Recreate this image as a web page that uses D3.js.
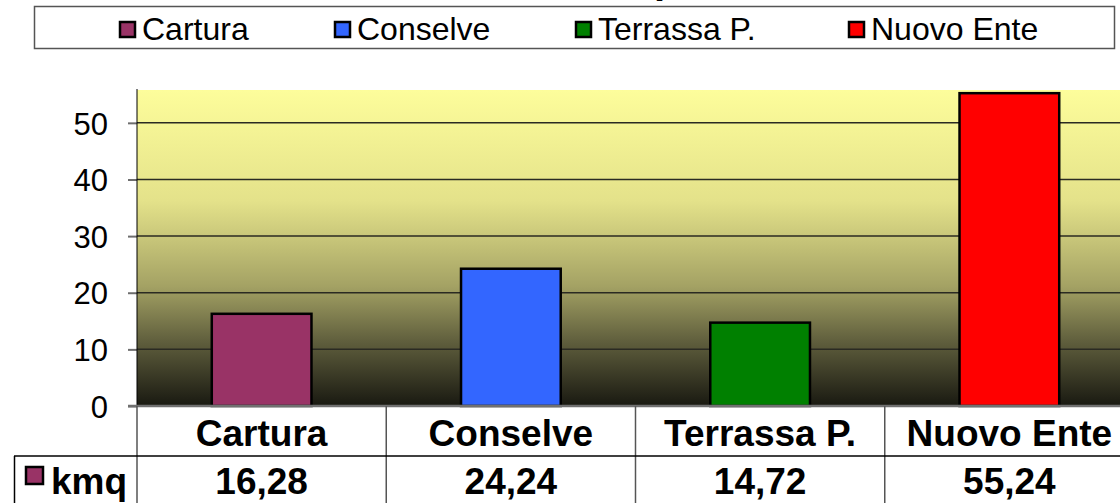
<!DOCTYPE html>
<html><head><meta charset="utf-8">
<script src="https://cdn.jsdelivr.net/npm/d3@7/dist/d3.min.js"></script>
<style>
html,body{margin:0;padding:0;background:#fff;overflow:hidden;}
svg{display:block;font-family:"Liberation Sans",Arial,sans-serif;}
svg text{font-family:"Liberation Sans",Arial,sans-serif;}
</style></head>
<body>
<svg id="chart" width="1120" height="503"></svg>
<script>
const categories = ["Cartura", "Conselve", "Terrassa P.", "Nuovo Ente"];
const values = [16.28, 24.24, 14.72, 55.24];
const valueLabels = ["16,28", "24,24", "14,72", "55,24"];
const colors = ["#993366", "#3366FF", "#008000", "#FF0000"];
const seriesName = "kmq";
const yTicks = [0, 10, 20, 30, 40, 50];
const titleText = "Superficie";

(function () {
const svg = d3.select("#chart");
const pLeft = 137, pRight = 1134, pTop = 90, pBottom = 406;

const x = d3.scaleBand().domain(categories).range([pLeft, pRight]).padding(0);
const y = d3.scaleLinear().domain([0, 55.8]).range([pBottom, pTop]);

// gradient
const defs = svg.append("defs");
const grad = defs.append("linearGradient").attr("id", "bg").attr("x1", 0).attr("y1", 0).attr("x2", 0).attr("y2", 1);
[[0, "#FDFD9B"], [0.35, "#E4E28A"], [0.62, "#A4A264"], [0.8, "#5E5D3C"], [1, "#191911"]]
  .forEach(([o, c]) => grad.append("stop").attr("offset", o).attr("stop-color", c));

// title (cut off at top, as in the source image)
svg.append("text").attr("x", 603).attr("y", -7).attr("font-size", 40).attr("font-weight", "bold")
  .attr("fill", "#000").text(titleText);

// plot area
svg.append("rect").attr("x", pLeft).attr("y", pTop).attr("width", pRight - pLeft).attr("height", pBottom - pTop)
  .attr("fill", "url(#bg)");

// gridlines
svg.append("g").selectAll("line").data(yTicks.filter(d => d > 0)).join("line")
  .attr("x1", pLeft).attr("x2", pRight).attr("y1", d => y(d)).attr("y2", d => y(d))
  .attr("stroke", "#2a2a22").attr("stroke-width", 1.5);

// y axis
const yAxis = d3.axisLeft(y).tickValues(yTicks).tickSize(9).tickPadding(20).tickFormat(d3.format("d"));
const gy = svg.append("g").attr("transform", `translate(${pLeft},0)`).call(yAxis);
gy.attr("font-family", null);
gy.select(".domain").remove();
gy.selectAll(".tick line").attr("stroke", "#6e6e6e").attr("stroke-width", 2);
gy.selectAll(".tick text").attr("font-size", 31).attr("fill", "#000").attr("dy", "0.36em");
svg.append("line").attr("x1", pLeft).attr("x2", pLeft).attr("y1", pTop - 1).attr("y2", pBottom)
  .attr("stroke", "#000").attr("stroke-width", 1);

// bars
const bw = x.bandwidth() * 0.4;
svg.append("g").selectAll("rect").data(values).join("rect")
  .attr("x", (d, i) => x(categories[i]) + (x.bandwidth() - bw) / 2)
  .attr("y", d => y(d))
  .attr("width", bw)
  .attr("height", d => y(0) - y(d))
  .attr("fill", (d, i) => colors[i])
  .attr("stroke", "#000").attr("stroke-width", 2.5);

// zero line
svg.append("line").attr("x1", pLeft - 9).attr("x2", pRight).attr("y1", y(0)).attr("y2", y(0))
  .attr("stroke", "#707070").attr("stroke-width", 2.5);

// data table
const rowMid = 456, rowBot = 506;
const tbl = svg.append("g");
tbl.selectAll("line.v").data(categories).join("line")
  .attr("x1", d => x(d)).attr("x2", d => x(d)).attr("y1", y(0)).attr("y2", rowBot)
  .attr("stroke", "#555").attr("stroke-width", 1.5);
tbl.append("line").attr("x1", 14).attr("x2", 1120).attr("y1", rowMid).attr("y2", rowMid)
  .attr("stroke", "#000").attr("stroke-width", 1.5);
tbl.append("line").attr("x1", 14.5).attr("x2", 14.5).attr("y1", rowMid).attr("y2", rowBot)
  .attr("stroke", "#000").attr("stroke-width", 1.5);

tbl.selectAll("text.cat").data(categories).join("text")
  .attr("x", d => x(d) + x.bandwidth() / 2).attr("y", 446)
  .attr("text-anchor", "middle").attr("font-size", 37).attr("font-weight", "bold").text(d => d);
tbl.selectAll("text.val").data(valueLabels).join("text")
  .attr("x", (d, i) => x(categories[i]) + x.bandwidth() / 2).attr("y", 494)
  .attr("text-anchor", "middle").attr("font-size", 37).attr("font-weight", "bold").text(d => d);
tbl.append("rect").attr("x", 26).attr("y", 467).attr("width", 17).attr("height", 17)
  .attr("fill", colors[0]).attr("stroke", "#000").attr("stroke-width", 2.5);
tbl.append("text").attr("x", 51).attr("y", 494).attr("font-size", 37).attr("font-weight", "bold").text(seriesName);

// legend
svg.append("rect").attr("x", 34.5).attr("y", 6.5).attr("width", 1080).attr("height", 42)
  .attr("fill", "#fff").attr("stroke", "#555").attr("stroke-width", 1.5);
const legX = [120, 335, 576, 849];
const lg = svg.append("g").selectAll("g").data(categories).join("g")
  .attr("transform", (d, i) => `translate(${legX[i]},0)`);
lg.append("rect").attr("x", 0).attr("y", 22).attr("width", 15).attr("height", 15)
  .attr("fill", (d, i) => colors[i]).attr("stroke", "#000").attr("stroke-width", 2.5);
lg.append("text").attr("x", 22).attr("y", 40).attr("font-size", 32).text(d => d);
})();
</script>
</body></html>
